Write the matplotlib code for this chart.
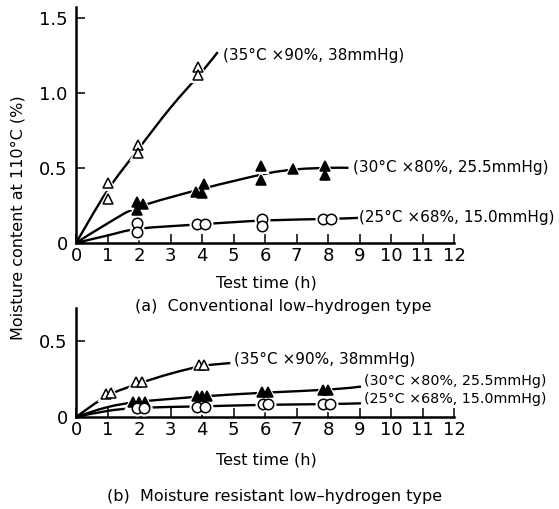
import numpy as np
import matplotlib
matplotlib.use("Agg")
import matplotlib.pyplot as plt
from matplotlib.path import Path
from matplotlib.patches import PathPatch

plt.rcParams['font.family'] = ['DejaVu Sans']

# ---------------- (a) Conventional low-hydrogen type ----------------
a35_x = [1.0, 1.0, 1.97, 1.97, 3.88, 3.88]
a35_y = [0.40, 0.29, 0.65, 0.60, 1.17, 1.12]
a30_x = [1.94, 2.13, 1.94, 3.8, 4.0, 4.05, 5.88, 5.88, 6.9, 7.9, 7.9]
a30_y = [0.27, 0.26, 0.22, 0.34, 0.33, 0.39, 0.51, 0.42, 0.49, 0.51, 0.45]
a25_x = [1.95, 1.95, 3.85, 4.1, 5.9, 5.9, 7.85, 8.1]
a25_y = [0.13, 0.07, 0.125, 0.125, 0.16, 0.11, 0.16, 0.16]

# hand-drawn trend curves (a)
a35_cx = [0, 1, 2, 3, 4, 4.5]
a35_cy = [0, 0.35, 0.63, 0.90, 1.14, 1.27]
a30_cx = [0, 1, 2, 4, 6, 7, 8, 8.65]
a30_cy = [0, 0.13, 0.24, 0.36, 0.46, 0.49, 0.5, 0.5]
a25_cx = [0, 1, 2, 4, 6, 8, 8.95]
a25_cy = [0, 0.05, 0.095, 0.125, 0.15, 0.16, 0.167]

# ---------------- (b) Moisture resistant low-hydrogen type ----------------
b35_x = [0.95, 1.1, 1.9, 2.1, 3.9, 4.05]
b35_y = [0.15, 0.16, 0.23, 0.23, 0.34, 0.34]
b30_x = [1.8, 2.0, 2.2, 3.85, 4.0, 4.15, 5.9, 6.1, 7.85, 8.0]
b30_y = [0.10, 0.10, 0.10, 0.14, 0.14, 0.14, 0.165, 0.165, 0.18, 0.18]
b25_x = [1.95, 2.15, 3.85, 4.1, 5.95, 6.1, 7.85, 8.05]
b25_y = [0.06, 0.06, 0.065, 0.065, 0.085, 0.085, 0.085, 0.085]

b35_cx = [0, 1, 2, 3, 4, 4.9]
b35_cy = [0, 0.14, 0.22, 0.285, 0.335, 0.355]
b30_cx = [0, 1, 2, 4, 6, 8, 9.05]
b30_cy = [0, 0.065, 0.10, 0.135, 0.16, 0.18, 0.20]
b25_cx = [0, 1, 2, 4, 6, 8, 9.05]
b25_cy = [0, 0.04, 0.06, 0.07, 0.08, 0.085, 0.09]

cond35 = "(35°C ×90%, 38mmHg)"
cond30 = "(30°C ×80%, 25.5mmHg)"
cond25 = "(25°C ×68%, 15.0mmHg)"

x_ticks = list(range(0, 13))
a_yticks = [0, 0.5, 1.0, 1.5]
a_ylabels = ["0", "0.5", "1.0", "1.5"]
b_yticks = [0, 0.5]
b_ylabels = ["0", "0.5"]

W, H = 559, 509
fig = plt.figure(figsize=(W / 100, H / 100), dpi=100)


def px_box(x0, y_top, x1, y_bot):
    return [x0 / W, 1 - y_bot / H, (x1 - x0) / W, (y_bot - y_top) / H]


def smooth_curve(ax, xs, ys, lw=1.7):
    """Draw a smooth Catmull-Rom curve through the guide points."""
    p = np.column_stack([xs, ys]).astype(float)
    verts = [p[0]]
    codes = [Path.MOVETO]
    n = len(p)
    for i in range(n - 1):
        p0 = p[i - 1] if i > 0 else p[i]
        p1 = p[i]
        p2 = p[i + 1]
        p3 = p[i + 2] if i + 2 < n else p[i + 1]
        c1 = p1 + (p2 - p0) / 6.0
        c2 = p2 - (p3 - p1) / 6.0
        verts += [c1, c2, p2]
        codes += [Path.CURVE4] * 3
    patch = PathPatch(Path(verts, codes), fill=False, lw=lw, color='black',
                      capstyle='butt', zorder=2)
    ax.add_patch(patch)


def markers(ax, xs, ys, kind):
    if kind == 'open_tri':
        m, fc, ms = '^', 'white', 7.5
    elif kind == 'fill_tri':
        m, fc, ms = '^', 'black', 7.5
    else:
        m, fc, ms = 'o', 'white', 7.5
    # white halo leaves a small gap in the curve around each mark
    ax.plot(xs, ys, ls='none', marker=m, ms=ms + 2.5, mfc='white',
            mec='white', mew=1.5, zorder=3, clip_on=False)
    ax.plot(xs, ys, ls='none', marker=m, ms=ms, mfc=fc, mec='black',
            mew=1.1, zorder=4, clip_on=False)


def style_axes(ax, ymax, yticks, ylabels):
    ax.set_xlim(0, 12)
    ax.set_ylim(0, ymax)
    for s in ['top', 'right']:
        ax.spines[s].set_visible(False)
    for s in ['left', 'bottom']:
        ax.spines[s].set_linewidth(1.8)
    ax.set_xticks(x_ticks)
    ax.set_xticklabels([str(t) for t in x_ticks])
    ax.set_yticks(yticks)
    ax.set_yticklabels(ylabels)
    ax.tick_params(axis='both', direction='in', length=6.5, width=1.1,
                   labelsize=13)
    ax.tick_params(axis='x', pad=3)
    ax.tick_params(axis='y', pad=6)
    ax.patch.set_alpha(0)


# ----- panel (a)
ax1 = fig.add_axes(px_box(76, 7, 454, 243))
style_axes(ax1, 1.57, a_yticks, a_ylabels)
smooth_curve(ax1, a35_cx, a35_cy)
smooth_curve(ax1, a30_cx, a30_cy)
smooth_curve(ax1, a25_cx, a25_cy)
markers(ax1, a35_x, a35_y, 'open_tri')
markers(ax1, a30_x, a30_y, 'fill_tri')
markers(ax1, a25_x, a25_y, 'circle')
ax1.text(4.68, 1.25, cond35, fontsize=11, va='center', ha='left')
ax1.text(8.8, 0.50, cond30, fontsize=11, va='center', ha='left', clip_on=False)
ax1.text(8.98, 0.167, cond25, fontsize=11, va='center', ha='left', clip_on=False)

# ----- panel (b)
ax2 = fig.add_axes(px_box(76, 308, 454, 417))
style_axes(ax2, 0.717, b_yticks, b_ylabels)
smooth_curve(ax2, b35_cx, b35_cy)
smooth_curve(ax2, b30_cx, b30_cy)
smooth_curve(ax2, b25_cx, b25_cy)
markers(ax2, b35_x, b35_y, 'open_tri')
markers(ax2, b30_x, b30_y, 'fill_tri')
markers(ax2, b25_x, b25_y, 'circle')
ax2.text(5.0, 0.38, cond35, fontsize=11, va='center', ha='left')
ax2.text(9.15, 0.237, cond30, fontsize=10.3, va='center', ha='left', clip_on=False)
ax2.text(9.15, 0.118, cond25, fontsize=10.3, va='center', ha='left', clip_on=False)


def ftext(xp, yp, s, **kw):
    fig.text(xp / W, 1 - yp / H, s, ha='center', va='center', **kw)


ftext(266, 283, "Test time (h)", fontsize=11.5)
ftext(283, 307, "(a)  Conventional low\u2013hydrogen type", fontsize=11.5)
ftext(266, 460, "Test time (h)", fontsize=11.5)
ftext(275, 497, "(b)  Moisture resistant low\u2013hydrogen type", fontsize=11.5)
ftext(18, 218, "Moisture content at 110°C (%)", fontsize=11.5, rotation=90)

fig.savefig("out.png", dpi=100)
